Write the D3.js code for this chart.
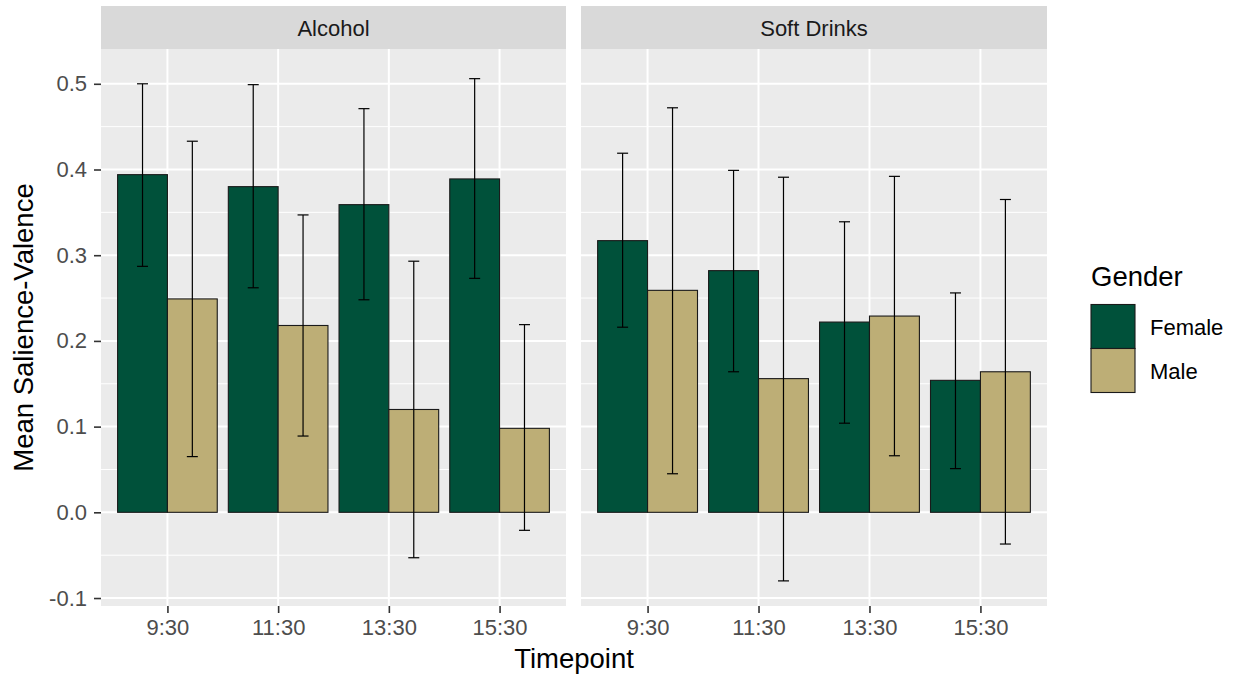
<!DOCTYPE html>
<html>
<head>
<meta charset="utf-8">
<script src="https://cdn.jsdelivr.net/npm/d3@7/dist/d3.min.js"></script>
<style>
  body { margin: 0; background: #fff; }
  text { font-family: "Liberation Sans", Arial, Helvetica, sans-serif; }
</style>
</head>
<body>
<svg id="chart" width="1236" height="675"></svg>
<script>
const drinks = ["Alcohol", "Soft Drinks"];
const timepoints = ["9:30", "11:30", "13:30", "15:30"];
const genders = ["Female", "Male"];
const genderColors = ["#00513A", "#BDAE76"];
const yTicks = [-0.1, 0.0, 0.1, 0.2, 0.3, 0.4, 0.5];
const yMinor = [-0.05, 0.05, 0.15, 0.25, 0.35, 0.45];

// means [drink][gender][timepoint]
const alcoholFemale = [0.394, 0.380, 0.359, 0.389];
const alcoholMale   = [0.249, 0.218, 0.120, 0.098];
const softFemale    = [0.317, 0.282, 0.222, 0.154];
const softMale      = [0.259, 0.156, 0.229, 0.164];
// error bar bounds
const alcoholFemaleLo = [0.287, 0.262, 0.248, 0.273];
const alcoholFemaleHi = [0.500, 0.499, 0.471, 0.506];
const alcoholMaleLo   = [0.065, 0.089, -0.053, -0.021];
const alcoholMaleHi   = [0.433, 0.347, 0.293, 0.219];
const softFemaleLo    = [0.216, 0.164, 0.104, 0.051];
const softFemaleHi    = [0.419, 0.399, 0.339, 0.256];
const softMaleLo      = [0.045, -0.080, 0.066, -0.037];
const softMaleHi      = [0.472, 0.391, 0.392, 0.365];

const means = [[alcoholFemale, alcoholMale], [softFemale, softMale]];
const lows  = [[alcoholFemaleLo, alcoholMaleLo], [softFemaleLo, softMaleLo]];
const highs = [[alcoholFemaleHi, alcoholMaleHi], [softFemaleHi, softMaleHi]];

const data = [];
drinks.forEach((d, di) => genders.forEach((g, gi) => timepoints.forEach((t, ti) => {
  data.push({drink: d, gender: g, gi, time: t, mean: means[di][gi][ti], lo: lows[di][gi][ti], hi: highs[di][gi][ti]});
})));

const svg = d3.select("#chart");
const panelTop = 49, panelBottom = 606, stripTop = 6;
const panels = [{x0: 101, x1: 566}, {x0: 581, x1: 1047}];
const smallFont = 22, titleFont = 27.5;
const fontFam = "'Liberation Sans', Arial, sans-serif";

const y = d3.scaleLinear().domain([-0.1093, 0.5406]).range([panelBottom, panelTop]);

panels.forEach((p, pi) => {
  const g = svg.append("g");
  const x = d3.scalePoint().domain(timepoints).range([p.x0, p.x1]).padding(0.6);
  const step = x.step();
  const bw = step * 0.45;

  // strip
  g.append("rect").attr("x", p.x0).attr("y", stripTop).attr("width", p.x1 - p.x0)
    .attr("height", panelTop - stripTop).attr("fill", "#D9D9D9");
  g.append("text").attr("x", (p.x0 + p.x1) / 2).attr("y", (stripTop + panelTop) / 2 + 8)
    .attr("text-anchor", "middle").attr("font-size", smallFont).attr("fill", "#1A1A1A").text(drinks[pi]);

  // background
  g.append("rect").attr("x", p.x0).attr("y", panelTop).attr("width", p.x1 - p.x0)
    .attr("height", panelBottom - panelTop).attr("fill", "#EBEBEB");

  // grid
  g.selectAll(".minor").data(yMinor).enter().append("line")
    .attr("x1", p.x0).attr("x2", p.x1).attr("y1", d => y(d)).attr("y2", d => y(d))
    .attr("stroke", "#fff").attr("stroke-width", 1);
  g.selectAll(".major").data(yTicks).enter().append("line")
    .attr("x1", p.x0).attr("x2", p.x1).attr("y1", d => y(d)).attr("y2", d => y(d))
    .attr("stroke", "#fff").attr("stroke-width", 2);
  g.selectAll(".vmajor").data(timepoints).enter().append("line")
    .attr("x1", d => x(d)).attr("x2", d => x(d)).attr("y1", panelTop).attr("y2", panelBottom)
    .attr("stroke", "#fff").attr("stroke-width", 2);

  const pd = data.filter(d => d.drink === drinks[pi]);
  // bars
  g.selectAll(".bar").data(pd).enter().append("rect")
    .attr("x", d => x(d.time) + (d.gi === 0 ? -bw : 0))
    .attr("width", bw)
    .attr("y", d => y(Math.max(0, d.mean)))
    .attr("height", d => Math.abs(y(d.mean) - y(0)))
    .attr("fill", d => genderColors[d.gi])
    .attr("stroke", "#1a1a1a").attr("stroke-width", 1.1);

  // error bars
  const cap = 5.5;
  const eb = g.selectAll(".eb").data(pd).enter().append("g")
    .attr("stroke", "#000").attr("stroke-width", 1.2);
  const cx = d => x(d.time) + (d.gi === 0 ? -bw / 2 : bw / 2);
  eb.append("line").attr("x1", cx).attr("x2", cx).attr("y1", d => y(d.lo)).attr("y2", d => y(d.hi));
  eb.append("line").attr("x1", d => cx(d) - cap).attr("x2", d => cx(d) + cap).attr("y1", d => y(d.lo)).attr("y2", d => y(d.lo));
  eb.append("line").attr("x1", d => cx(d) - cap).attr("x2", d => cx(d) + cap).attr("y1", d => y(d.hi)).attr("y2", d => y(d.hi));

  // x axis
  const xa = g.append("g").attr("transform", `translate(0,${panelBottom})`)
    .call(d3.axisBottom(x).tickSize(7).tickPadding(6));
  xa.select(".domain").remove();
  xa.selectAll(".tick line").attr("stroke", "#333").attr("stroke-width", 1.6);
  xa.selectAll(".tick text").attr("font-size", smallFont).attr("fill", "#4D4D4D")
    .style("font-family", fontFam);

  if (pi === 0) {
    const ya = g.append("g").attr("transform", `translate(${p.x0},0)`)
      .call(d3.axisLeft(y).tickValues(yTicks).tickFormat(d => d.toFixed(1)).tickSize(7).tickPadding(7));
    ya.select(".domain").remove();
    ya.selectAll(".tick line").attr("stroke", "#333").attr("stroke-width", 1.6);
    ya.selectAll(".tick text").attr("font-size", smallFont).attr("fill", "#4D4D4D")
      .style("font-family", fontFam);
  }
});

// axis titles
svg.append("text").attr("x", (panels[0].x0 + panels[1].x1) / 2).attr("y", 668)
  .attr("text-anchor", "middle").attr("font-size", titleFont).attr("fill", "#000").text("Timepoint");
svg.append("text").attr("transform", `translate(33,${(panelTop + panelBottom) / 2}) rotate(-90)`)
  .attr("text-anchor", "middle").attr("font-size", titleFont).attr("fill", "#000").text("Mean Salience-Valence");

// legend
const lg = svg.append("g").attr("transform", "translate(1091,0)");
lg.append("text").attr("x", 0).attr("y", 286).attr("font-size", titleFont).attr("fill", "#000").text("Gender");
const keySize = 44;
lg.selectAll(".key").data(genders).enter().append("rect")
  .attr("x", 0).attr("y", (d, i) => 304.5 + i * keySize).attr("width", keySize).attr("height", keySize)
  .attr("fill", (d, i) => genderColors[i]).attr("stroke", "#1a1a1a").attr("stroke-width", 1.1);
lg.selectAll(".klab").data(genders).enter().append("text")
  .attr("x", 59).attr("y", (d, i) => 304.5 + i * keySize + keySize / 2 + 8)
  .attr("font-size", smallFont).attr("fill", "#000").text(d => d);
</script>
</body>
</html>
